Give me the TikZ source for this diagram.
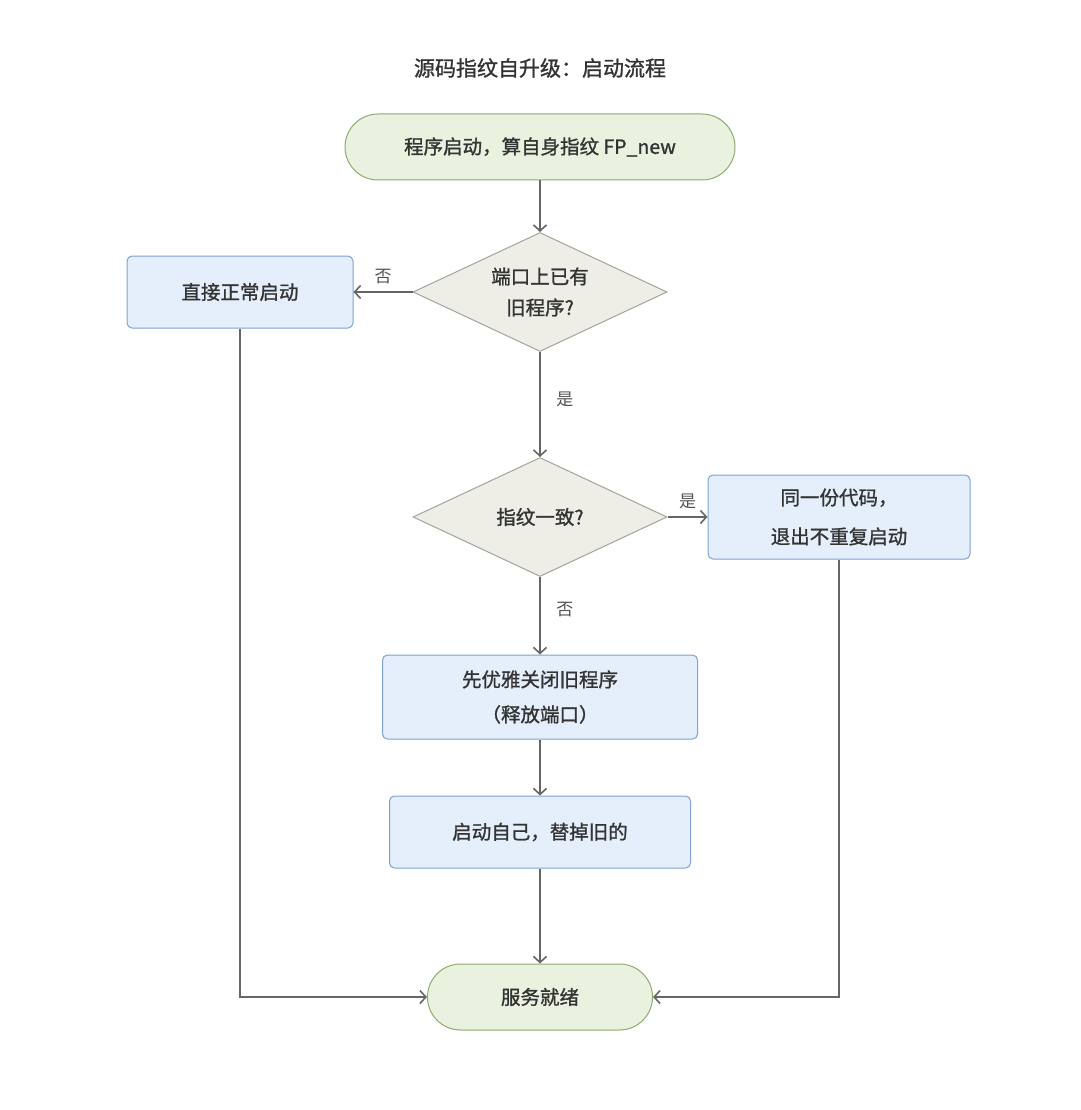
\documentclass[tikz,border=0pt]{standalone}
\usepackage{fontspec}
\setmainfont{Noto Sans CJK SC}
\newfontfamily\cjkmed[FakeBold=1.2]{Noto Sans CJK SC}
\usepackage{tikz}
\usetikzlibrary{shapes.geometric,arrows.meta}

\definecolor{termfill}{HTML}{E9F2DF}
\definecolor{termline}{HTML}{8EAB70}
\definecolor{procfill}{HTML}{E5EFFB}
\definecolor{procline}{HTML}{7FA2CF}
\definecolor{decfill}{HTML}{EEEEE6}
\definecolor{decline}{HTML}{A3A39C}
\definecolor{edgecol}{HTML}{666666}
\definecolor{txtcol}{HTML}{333333}

\tikzset{
  term/.style={draw=termline,fill=termfill,line width=1pt,rounded corners=33pt,
               minimum height=66pt,inner sep=0pt,text=txtcol,
               font=\cjkmed\fontsize{19.5}{31}\selectfont},
  proc/.style={draw=procline,fill=procfill,line width=1pt,rounded corners=5pt,
               inner sep=0pt,text=txtcol,align=center,
               font=\cjkmed\fontsize{19.5}{37}\selectfont},
  decide/.style={diamond,aspect=2,draw=decline,fill=decfill,line width=1pt,
                 minimum width=254pt,minimum height=119pt,inner sep=0pt,
                 text=txtcol,align=center,font=\cjkmed\fontsize{19.5}{31}\selectfont},
  lbl/.style={text=txtcol!85,font=\fontsize{17}{17}\selectfont},
  flow/.style={draw=edgecol,line width=2pt,-{Straight Barb[length=6pt,width=13pt,line width=1.6pt]}}
}

\begin{document}
\begin{tikzpicture}[x=1pt,y=-1pt]
  \useasboundingbox (0,0) rectangle (1080,1110);

  \node (title) [text=txtcol,font=\cjkmed\fontsize{21}{21}\selectfont] at (540,68) {源码指纹自升级：启动流程};

  % nodes
  \node (start)  [term,minimum width=390pt] at (540,147) {程序启动，算自身指纹 FP\_new};
  \node (port)   [decide] at (540,292) {端口上已有\\旧程序?};
  \node (direct) [proc,minimum width=226pt,minimum height=72pt] at (240,292) {直接正常启动};
  \node (same)   [decide] at (540,517) {指纹一致?};
  \node (quit)   [proc,minimum width=262pt,minimum height=84pt] at (839,517) {同一份代码，\\[2pt]退出不重复启动};
  \node (close)  [proc,minimum width=315pt,minimum height=84pt] at (540,697) {先优雅关闭旧程序\\[-2pt]（释放端口）};
  \node (self)   [proc,minimum width=301pt,minimum height=72pt] at (540,832) {启动自己，替掉旧的};
  \node (ready)  [term,minimum width=225pt] at (540,997) {服务就绪};

  % connectors
  \draw[flow] (start) -- (port);
  \draw[flow] (port.west) -- (direct.east) node[lbl,pos=0.5,above=4pt] {否};
  \draw[flow] (port.south) -- (same.north) node[lbl,pos=0.45,right=12pt] {是};
  \draw[flow] (same.east) -- (quit.west) node[lbl,pos=0.5,above=4pt] {是};
  \draw[flow] (same.south) -- (close.north) node[lbl,pos=0.42,right=12pt] {否};
  \draw[flow] (close) -- (self);
  \draw[flow] (self) -- (ready);
  \draw[flow] (direct.south) |- (ready.west);
  \draw[flow] (quit.south) |- (ready.east);
\end{tikzpicture}
\end{document}
